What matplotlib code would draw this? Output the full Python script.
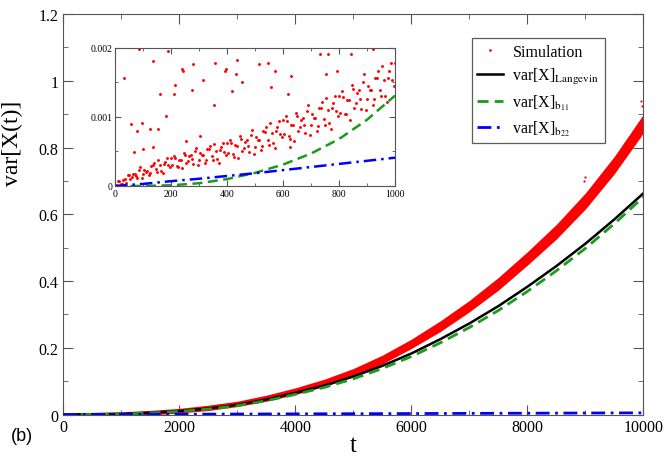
import numpy as np
import matplotlib
matplotlib.use('Agg')
import matplotlib.pyplot as plt
from matplotlib.ticker import MultipleLocator, FormatStrFormatter

plt.rcParams['font.family'] = ['Liberation Serif', 'DejaVu Serif']
plt.rcParams['mathtext.fontset'] = 'stix'

# main panel, values read every 500 in t
t_main = [0, 500, 1000, 1500, 2000, 2500, 3000, 3500, 4000, 4500, 5000,
          5500, 6000, 6500, 7000, 7500, 8000, 8500, 9000, 9500, 10000]
sim_lo = [-0.006, -0.0056, -0.004, -0.0015, 0.0045, 0.012, 0.024, 0.040, 0.060, 0.084, 0.114,
          0.152, 0.198, 0.249, 0.308, 0.373, 0.448, 0.526, 0.616, 0.722, 0.844]
sim_hi = [0.006, 0.0064, 0.008, 0.0125, 0.0185, 0.028, 0.040, 0.058, 0.080, 0.106, 0.138,
          0.178, 0.226, 0.281, 0.342, 0.411, 0.488, 0.570, 0.664, 0.774, 0.900]
langevin = [0, 0.0003, 0.0018, 0.0052, 0.0105, 0.018, 0.029, 0.045, 0.065, 0.087, 0.114,
            0.146, 0.183, 0.226, 0.273, 0.325, 0.383, 0.445, 0.512, 0.585, 0.663]
b11 = [0, 0.0002, 0.0015, 0.0045, 0.0093, 0.0163, 0.0265, 0.0415, 0.0605, 0.0815, 0.107,
       0.138, 0.174, 0.215, 0.261, 0.312, 0.369, 0.431, 0.498, 0.572, 0.652]
t_b22 = [0, 1000, 2000, 3000, 4000, 5000, 6000, 7000, 8000, 9000, 10000]
b22 = [0, 0.0004, 0.0009, 0.0014, 0.0019, 0.0024, 0.0029, 0.0034, 0.0039, 0.0045, 0.005]
out_t = [8975, 8990, 9960, 9980]
out_v = [0.700, 0.712, 0.940, 0.925]

# inset (values in units of 1e-3)
t_a = np.arange(10, 1001, 10)
sim_a = [0.07, 0.03, 0.09, 0.04, 0.16, 0.13, 0.18, 0.11, 0.27, 0.17,
         0.21, 0.16, 0.29, 0.34, 0.21, 0.30, 0.19, 0.35, 0.31, 0.41,
         0.44, 0.29, 0.38, 0.26, 0.45, 0.36, 0.45, 0.32, 0.55, 0.38,
         0.45, 0.34, 0.53, 0.58, 0.38, 0.50, 0.34, 0.56, 0.49, 0.63,
         0.67, 0.46, 0.59, 0.41, 0.68, 0.55, 0.66, 0.49, 0.81, 0.57,
         0.67, 0.52, 0.79, 0.85, 0.60, 0.77, 0.55, 0.85, 0.76, 0.95,
         1.01, 0.72, 0.89, 0.65, 1.01, 0.85, 0.99, 0.77, 1.17, 0.88,
         0.99, 0.80, 1.13, 1.22, 0.89, 1.10, 0.83, 1.20, 1.08, 1.31,
         1.38, 1.05, 1.25, 0.96, 1.40, 1.21, 1.39, 1.11, 1.62, 1.26,
         1.39, 1.18, 1.57, 1.67, 1.30, 1.53, 1.22, 1.66, 1.53, 1.78]
t_b = np.arange(5, 1000, 10)
sim_b = [0.01, 0.07, 0.03, 0.10, 0.16, 0.10, 0.17, 0.15, 0.23, 0.12,
         0.23, 0.22, 0.19, 0.30, 0.24, 0.37, 0.22, 0.32, 0.40, 0.28,
         0.30, 0.41, 0.27, 0.38, 0.48, 0.33, 0.43, 0.39, 0.50, 0.31,
         0.48, 0.45, 0.38, 0.53, 0.43, 0.61, 0.39, 0.52, 0.63, 0.45,
         0.48, 0.63, 0.42, 0.58, 0.72, 0.50, 0.64, 0.58, 0.74, 0.46,
         0.71, 0.67, 0.58, 0.78, 0.66, 0.91, 0.62, 0.79, 0.94, 0.71,
         0.75, 0.94, 0.68, 0.88, 1.06, 0.79, 0.96, 0.89, 1.08, 0.74,
         1.04, 0.99, 0.87, 1.13, 0.97, 1.28, 0.91, 1.13, 1.31, 1.02,
         1.06, 1.29, 1.04, 1.24, 1.46, 1.13, 1.35, 1.26, 1.51, 1.10,
         1.45, 1.39, 1.26, 1.57, 1.39, 1.74, 1.31, 1.57, 1.78, 1.45]
stray_t = [32, 87, 137, 188, 57, 95, 77, 161, 155, 182, 238, 242, 214, 211,
           274, 280, 315, 357, 393, 396, 417, 435, 432, 452, 353, 513, 548,
           571, 556, 627, 619, 752, 761, 732, 794, 842, 920, 125, 137, 69,
           101, 304, 254, 625]
stray_v = [1.56, 1.99, 1.81, 1.95, 0.90, 0.92, 0.80, 1.34, 0.82, 1.02, 1.70, 1.66, 1.46, 1.33,
           1.39, 1.77, 1.54, 1.78, 1.67, 1.69, 1.38, 1.83, 1.63, 1.51, 1.18, 1.77, 1.78,
           1.66, 1.43, 1.60, 1.34, 1.63, 1.92, 1.91, 1.67, 1.92, 1.99, 0.82, 0.56, 0.49,
           0.54, 0.73, 0.65, 0.56]
t_in = [0, 100, 200, 300, 400, 500, 600, 700, 800, 900, 1000]
b11_in = [0, 0.0, 0.01, 0.04, 0.10, 0.19, 0.31, 0.47, 0.68, 0.96, 1.31]
b22_in = [0, 0.03, 0.07, 0.105, 0.145, 0.185, 0.23, 0.275, 0.32, 0.365, 0.41]

RED = '#ff0000'
GREEN = '#1b9a1b'
BLUE = '#0000ff'
SPINE = '#555555'

fig = plt.figure(figsize=(6.64, 4.6), dpi=100)
ax = fig.add_axes([0.0956, 0.0967, 0.8735, 0.8707])

ax.fill_between(t_main, sim_lo, sim_hi, color=RED, lw=0, zorder=1)
ax.plot(out_t, out_v, ls='none', marker='o', ms=1.6, mew=0, color=RED,
        label='Simulation', zorder=1)
ax.plot(t_main, langevin, color='black', lw=1.8, label=r'var[X]$_{\mathrm{Langevin}}$', zorder=3)
ax.plot(t_main, b11, color=GREEN, lw=2, ls=(0, (4, 2.2)), label=r'var[X]$_{\mathrm{b}_{11}}$', zorder=4)
ax.plot(t_b22, b22, color=BLUE, lw=2, ls=(0, (5, 2, 1, 2)), label=r'var[X]$_{\mathrm{b}_{22}}$', zorder=4)

ax.set_xlim(0, 10000)
ax.set_ylim(0, 1.2)
ax.xaxis.set_major_locator(MultipleLocator(2000))
ax.xaxis.set_minor_locator(MultipleLocator(1000))
ax.yaxis.set_major_locator(MultipleLocator(0.2))
ax.yaxis.set_minor_locator(MultipleLocator(0.1))
ax.yaxis.set_major_formatter(FormatStrFormatter('%g'))
ax.tick_params(which='both', direction='in', top=True, right=True, color=SPINE, labelsize=11.5)
ax.tick_params(which='major', length=7)
ax.tick_params(which='minor', length=3.5)
for s in ax.spines.values():
    s.set_color(SPINE)

ax.set_xlabel('t', fontsize=18, labelpad=-1)
ax.set_ylabel('var[X(t)]', fontsize=17)
ax.yaxis.set_label_coords(-0.07, 0.68)
fig.text(0.033, 0.05, '(b)', family='Liberation Sans', fontsize=13, ha='center', va='center')

leg = ax.legend(loc='upper left', bbox_to_anchor=(0.69, 0.96), fontsize=11.5, frameon=True,
                fancybox=False, edgecolor='#333333', handlelength=1.6, labelspacing=0.4,
                borderpad=0.35, handletextpad=0.6, markerscale=1.2)
leg.get_frame().set_linewidth(0.9)

# inset
ins = fig.add_axes([0.1732, 0.5935, 0.4217, 0.3])
ins.plot(t_a, np.array(sim_a) * 1e-3, ls='none', marker='o', ms=2.1, mew=0, color=RED)
ins.plot(t_b, np.array(sim_b) * 1e-3, ls='none', marker='o', ms=2.1, mew=0, color=RED)
ins.plot(stray_t, np.array(stray_v) * 1e-3, ls='none', marker='o', ms=2.1, mew=0, color=RED)
ins.plot(t_in, np.array(b11_in) * 1e-3, color=GREEN, lw=1.8, ls=(0, (4, 2.2)))
ins.plot(t_in, np.array(b22_in) * 1e-3, color=BLUE, lw=1.8, ls=(0, (5, 2, 1, 2)))
ins.set_xlim(0, 1000)
ins.set_ylim(0, 0.002)
ins.xaxis.set_major_locator(MultipleLocator(200))
ins.xaxis.set_minor_locator(MultipleLocator(100))
ins.yaxis.set_major_locator(MultipleLocator(0.001))
ins.yaxis.set_minor_locator(MultipleLocator(0.0005))
ins.yaxis.set_major_formatter(FormatStrFormatter('%g'))
ins.tick_params(which='both', direction='in', top=True, right=True, color=SPINE, labelsize=7, pad=2)
ins.tick_params(which='major', length=4)
ins.tick_params(which='minor', length=2)
for s in ins.spines.values():
    s.set_color(SPINE)

fig.savefig('out.png', dpi=100)
